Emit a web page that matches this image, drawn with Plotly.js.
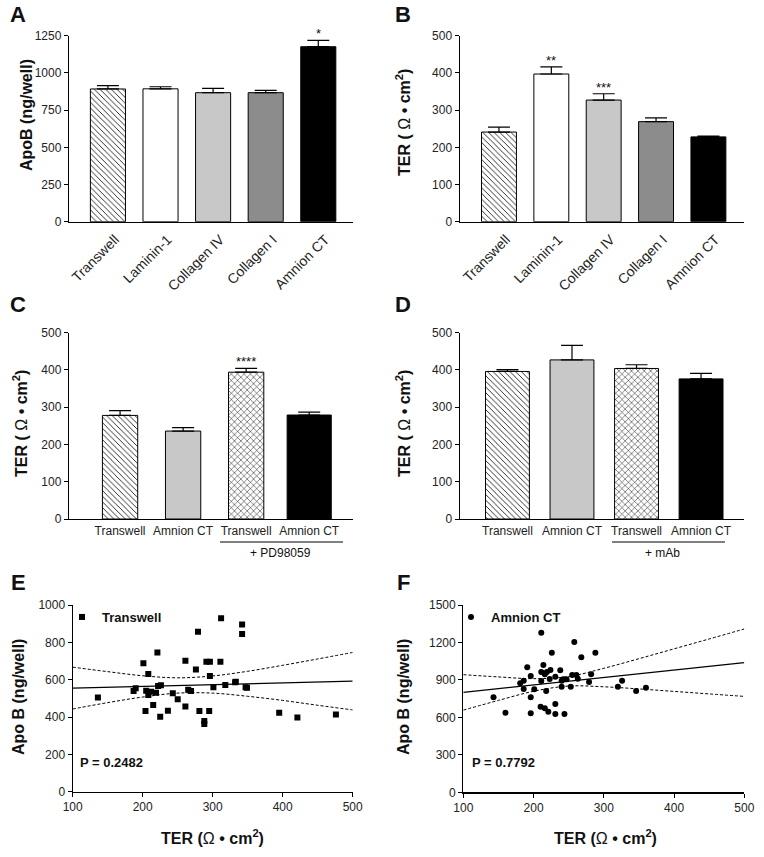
<!DOCTYPE html>
<html><head><meta charset="utf-8">
<script src="https://cdn.plot.ly/plotly-3.0.1.min.js"></script>
<style>html,body{margin:0;padding:0;background:#fff}</style>
</head><body><div id="chart" style="width:764px;height:857px"></div>
<script>
// ---------- data ----------
const catsAB = ["Transwell", "Laminin-1", "Collagen IV", "Collagen I", "Amnion CT"];
const apoB_A = [892, 893, 867, 867, 1176];
const apoB_A_err = [22, 14, 29, 16, 43];
const ter_B = [241, 397, 327, 269, 228];
const ter_B_err = [13, 19, 17, 10, 2];

const catsCD = ["Transwell", "Amnion CT", "Transwell", "Amnion CT"];
const ter_C = [278, 236, 394, 279];
const ter_C_err = [13, 9, 10, 8];
const ter_D = [396, 427, 404, 376];
const ter_D_err = [5, 39, 10, 15];

const sigA = ["", "", "", "", "*"];
const sigB = ["", "**", "***", "", ""];
const sigC = ["", "", "****", ""];

const eTER = [136,187,190,201,204,205,208,208,212,215,219,221,222,226,225,243,236,250,261,261,265,269,276,279,281,288,288,291,296,296,295,301,311,312,318,332,333,342,342,347,349,395,421,476];
const eApoB = [504,539,554,688,432,541,630,518,536,464,530,745,566,570,402,527,434,495,702,457,546,539,654,857,432,379,363,696,696,620,432,559,696,929,571,586,589,896,845,559,557,423,398,414];

const fTER = [143,160,181,186,186,191,196,196,196,201,211,211,211,210,214,216,216,218,219,221,223,224,226,231,231,231,238,240,240,242,244,247,253,255,258,261,263,268,279,282,288,320,326,346,360];
const fApoB = [761,638,873,894,827,1001,931,761,633,825,1278,891,963,686,1020,945,673,811,963,646,907,979,1118,926,707,627,977,846,894,905,627,905,846,939,1204,939,910,1081,883,945,1118,846,894,811,838];

const fitTER = [100,150,200,250,300,350,400,450,500];
const eFit = [555,560,564,569,574,578,583,587,592];
const eUpper = [667,643,621,610,620,645,677,711,746];
const eLower = [443,477,507,528,528,511,489,463,438];
const fFit = [800,830,860,889,919,949,979,1008,1038];
const fUpper = [942,924,910,927,993,1070,1149,1228,1308];
const fLower = [658,736,809,851,845,828,808,788,768];

// ---------- styles ----------
const W = 764, H = 857;
const FONT = "Arial, 'Liberation Sans', Helvetica, sans-serif";
const px = v => v / W, py = v => 1 - v / H;
const fillsAB = ["white", "white", "#c8c8c8", "#8c8c8c", "black"];
const patAB = ["\\", "", "", "", ""];
const fillsCD = ["white", "#c8c8c8", "white", "black"];
const patCD = ["\\", "", "x", ""];

const traces = [];
function addBars(x, y, err, fills, pats, xa, ya, widths) {
  x.forEach((xv, i) => {
    const marker = { color: fills[i], line: { color: "black", width: 1 } };
    if (pats[i]) marker.pattern = { shape: pats[i], fgcolor: "black", bgcolor: fills[i],
      fgopacity: 1, size: pats[i] === "x" ? 4.5 : 4, solidity: 0.2, fillmode: "overlay" };
    traces.push({
      type: "bar", x: [xv], y: [y[i]], xaxis: xa, yaxis: ya, width: [widths[i]], showlegend: false,
      marker: marker,
      error_y: { type: "data", symmetric: false, array: [err[i]], arrayminus: [0],
        color: "black", thickness: 1.2, width: 11 }
    });
  });
}
function axis(domain, range, extra) {
  return Object.assign({
    domain: domain, range: range, showline: true, linecolor: "black", linewidth: 1.2,
    ticks: "outside", ticklen: 4, tickcolor: "black", tickwidth: 1,
    showgrid: false, zeroline: false, fixedrange: true,
    tickfont: { family: FONT, size: 12, color: "#222" }
  }, extra || {});
}

const idxCD = catsCD.map((_, i) => i);
addBars(catsAB, apoB_A, apoB_A_err, fillsAB, patAB, "x", "y", [0.667, 0.667, 0.667, 0.667, 0.667]);
addBars(catsAB, ter_B, ter_B_err, fillsAB, patAB, "x2", "y2", [0.667, 0.667, 0.667, 0.667, 0.667]);
addBars(idxCD, ter_C, ter_C_err, fillsCD, patCD, "x3", "y3", [0.56, 0.56, 0.56, 0.7]);
addBars(idxCD, ter_D, ter_D_err, fillsCD, patCD, "x4", "y4", [0.68, 0.68, 0.68, 0.68]);

traces.push(
  { type: "scatter", mode: "markers", x: eTER, y: eApoB, xaxis: "x5", yaxis: "y5",
    name: "<b>Transwell</b>", legend: "legend",
    marker: { symbol: "square", size: 6, color: "black" } },
  { type: "scatter", mode: "lines", x: fitTER, y: eFit, xaxis: "x5", yaxis: "y5", showlegend: false,
    line: { color: "black", width: 1.2 } },
  { type: "scatter", mode: "lines", x: fitTER, y: eUpper, xaxis: "x5", yaxis: "y5", showlegend: false,
    line: { color: "black", width: 1, dash: "3px,2px", shape: "spline" } },
  { type: "scatter", mode: "lines", x: fitTER, y: eLower, xaxis: "x5", yaxis: "y5", showlegend: false,
    line: { color: "black", width: 1, dash: "3px,2px", shape: "spline" } },
  { type: "scatter", mode: "markers", x: fTER, y: fApoB, xaxis: "x6", yaxis: "y6",
    name: "<b>Amnion CT</b>", legend: "legend2",
    marker: { symbol: "circle", size: 6, color: "black" } },
  { type: "scatter", mode: "lines", x: fitTER, y: fFit, xaxis: "x6", yaxis: "y6", showlegend: false,
    line: { color: "black", width: 1.2 } },
  { type: "scatter", mode: "lines", x: fitTER, y: fUpper, xaxis: "x6", yaxis: "y6", showlegend: false,
    line: { color: "black", width: 1, dash: "3px,2px", shape: "spline" } },
  { type: "scatter", mode: "lines", x: fitTER, y: fLower, xaxis: "x6", yaxis: "y6", showlegend: false,
    line: { color: "black", width: 1, dash: "3px,2px", shape: "spline" } }
);

const yAB = [py(221.7), py(35.7)];
const yCD = [py(519), py(332.7)];
const yEF = [py(791.7), py(605)];

const layout = {
  width: W, height: H, margin: { l: 0, r: 0, t: 0, b: 0 },
  paper_bgcolor: "white", plot_bgcolor: "white",
  font: { family: FONT, color: "#111" },
  barmode: "overlay",
  xaxis: axis([px(69), px(353)], [-0.74, 4.66], { anchor: "y", ticks: "", tickangle: -45, type: "category",
    ticklabelshift: 7, ticklabelstandoff: 3, tickfont: { family: FONT, size: 14, color: "#222" } }),
  yaxis: axis(yAB, [0, 1250], { anchor: "x", dtick: 250 }),
  xaxis2: axis([px(459.7), px(744)], [-0.75, 4.68], { anchor: "y2", ticks: "", tickangle: -45, type: "category",
    ticklabelshift: 7, ticklabelstandoff: 3, tickfont: { family: FONT, size: 14, color: "#222" } }),
  yaxis2: axis(yAB, [0, 500], { anchor: "x2", dtick: 100 }),
  xaxis3: axis([px(69), px(352.7)], [-0.81, 3.69], { anchor: "y3", ticks: "", tickmode: "array",
    tickvals: idxCD, ticktext: catsCD }),
  yaxis3: axis(yCD, [0, 500], { anchor: "x3", dtick: 100 }),
  xaxis4: axis([px(459.7), px(744.3)], [-0.74, 3.67], { anchor: "y4", ticks: "", tickmode: "array",
    tickvals: idxCD, ticktext: catsCD }),
  yaxis4: axis(yCD, [0, 500], { anchor: "x4", dtick: 100 }),
  xaxis5: axis([px(72.7), px(352.7)], [100, 500], { anchor: "y5", dtick: 100 }),
  yaxis5: axis(yEF, [0, 1000], { anchor: "x5", dtick: 200 }),
  xaxis6: axis([px(463.3), px(744.3)], [100, 500], { anchor: "y6", dtick: 100 }),
  yaxis6: axis([py(792.3), py(605)], [0, 1500], { anchor: "x6", dtick: 300 }),
  legend: { x: px(62), y: py(617), xanchor: "left", yanchor: "middle", bgcolor: "rgba(0,0,0,0)",
    font: { family: FONT, size: 13, color: "#111" }, itemwidth: 30 },
  legend2: { x: px(451), y: py(617), xanchor: "left", yanchor: "middle", bgcolor: "rgba(0,0,0,0)",
    font: { family: FONT, size: 13, color: "#111" }, itemwidth: 30 },
  shapes: [
    { type: "line", xref: "paper", yref: "paper", x0: px(220), x1: px(343), y0: py(542), y1: py(542),
      line: { color: "black", width: 1 } },
    { type: "line", xref: "paper", yref: "paper", x0: px(612), x1: px(725), y0: py(542), y1: py(542),
      line: { color: "black", width: 1 } }
  ],
  annotations: []
};

const ann = layout.annotations;
function paperText(text, x, y, size, extra) {
  ann.push(Object.assign({ text: text, xref: "paper", yref: "paper", x: px(x), y: py(y),
    xanchor: "center", yanchor: "middle", showarrow: false,
    font: { family: FONT, size: size, color: "#111" } }, extra || {}));
}
[["A", 18, 15], ["B", 403, 15], ["C", 18, 305], ["D", 403, 305], ["E", 18, 582], ["F", 403, 582]]
  .forEach(l => paperText("<b>" + l[0] + "</b>", l[1], l[2], 22));
const terTitle = "<b>TER ( </b>Ω<b> • cm<sup>2</sup>)</b>";
paperText("<b>ApoB (ng/well)</b>", 27, 115, 16, { textangle: -90 });
paperText(terTitle, 403, 123, 16, { textangle: -90 });
paperText(terTitle, 20, 424, 16, { textangle: -90 });
paperText(terTitle, 403, 424, 16, { textangle: -90 });
paperText("<b>Apo B (ng/well)</b>", 18, 697, 16, { textangle: -90 });
paperText("<b>Apo B (ng/well)</b>", 403, 697, 16, { textangle: -90 });
paperText("<b>TER (</b>Ω<b> • cm<sup>2</sup>)</b>", 212, 837, 16);
paperText("<b>TER (</b>Ω<b> • cm<sup>2</sup>)</b>", 605, 837, 16);
paperText("+ PD98059", 280, 553, 12);
paperText("+ mAb", 662, 553, 12);
paperText("<b>P = 0.2482</b>", 78, 762, 13, { xanchor: "left" });
paperText("<b>P = 0.7792</b>", 470, 762, 13, { xanchor: "left" });
function stars(sig, vals, errs, xa, ya) {
  sig.forEach((s, i) => {
    if (!s) return;
    ann.push({ text: s, xref: xa, yref: ya, x: i, y: vals[i] + errs[i], yanchor: "bottom",
      yshift: -3, showarrow: false, font: { family: FONT, size: 13, color: "#111" } });
  });
}
stars(sigA, apoB_A, apoB_A_err, "x", "y");
stars(sigB, ter_B, ter_B_err, "x2", "y2");
stars(sigC, ter_C, ter_C_err, "x3", "y3");

Plotly.newPlot("chart", traces, layout, { staticPlot: true, displayModeBar: false });
</script>
</body></html>
